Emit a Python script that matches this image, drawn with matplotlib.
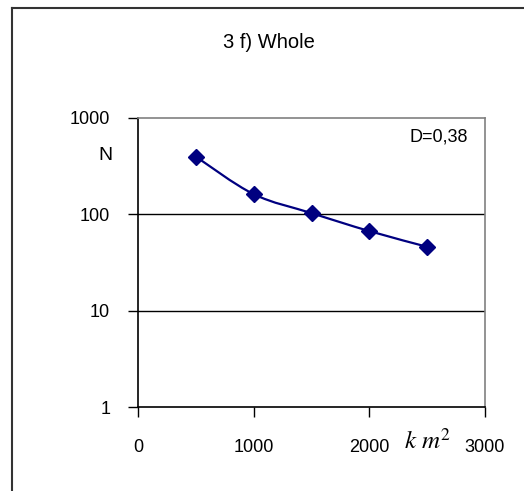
import numpy as np
import matplotlib
matplotlib.use("Agg")
import matplotlib.pyplot as plt
from matplotlib.path import Path
from matplotlib.patches import PathPatch
from matplotlib.lines import Line2D

plt.rcParams['font.family'] = ['Liberation Sans', 'DejaVu Sans']

# data
area = [500, 1000, 1500, 2000, 2500]
counts = [397, 162, 103, 67, 46]
x_ticks = [0, 1000, 2000, 3000]
y_ticks = [1, 10, 100, 1000]
y_tick_labels = ['1', '10', '100', '1000']

W, H = 524, 491
fig = plt.figure(figsize=(W / 100, H / 100), dpi=100)
ax = fig.add_axes([138 / W, 1 - 407 / H, (485 - 138) / W, (407 - 118) / H])

ax.set_yscale('log')
ax.set_xlim(0, 3000)
ax.set_ylim(1, 1000)
ax.set_xticks(x_ticks)
ax.set_xticklabels([str(t) for t in x_ticks])
ax.set_yticks(y_ticks)
ax.set_yticklabels(y_tick_labels)
ax.yaxis.set_minor_locator(matplotlib.ticker.NullLocator())
ax.tick_params(direction='out', length=7, width=1, labelsize=13, color='black')
ax.tick_params(axis='y', pad=13)
ax.tick_params(axis='x', pad=16)

for v in [10, 100]:
    ax.axhline(v, color='black', lw=1, zorder=1)

ax.spines['left'].set_color('black')
ax.spines['bottom'].set_color('black')
ax.spines['top'].set_color('#808080')
ax.spines['right'].set_color('#808080')
for s in ax.spines.values():
    s.set_linewidth(1.2)

# smoothed line (Catmull-Rom in x / log y space, drawn as bezier)
xs = np.array(area, float)
ls = np.log10(np.array(counts, float))
verts = [(xs[0], counts[0])]
codes = [Path.MOVETO]
n = len(xs)
for i in range(n - 1):
    p0 = (xs[max(i - 1, 0)], ls[max(i - 1, 0)])
    p1 = (xs[i], ls[i])
    p2 = (xs[i + 1], ls[i + 1])
    p3 = (xs[min(i + 2, n - 1)], ls[min(i + 2, n - 1)])
    c1 = (p1[0] + (p2[0] - p0[0]) / 6, p1[1] + (p2[1] - p0[1]) / 6)
    c2 = (p2[0] - (p3[0] - p1[0]) / 6, p2[1] - (p3[1] - p1[1]) / 6)
    for c in (c1, c2, p2):
        verts.append((c[0], 10 ** c[1]))
    codes += [Path.CURVE4] * 3
ax.add_patch(PathPatch(Path(verts, codes), facecolor='none', edgecolor='#000080', lw=1.6, zorder=3))
ax.plot(area, counts, linestyle='none', marker='D', markersize=8, color='#000080', zorder=4)

fig.text(269 / W, 1 - 42 / H, '3 f) Whole', ha='center', va='center', fontsize=14.5)
fig.text(105 / W, 1 - 156 / H, 'N', ha='center', va='center', fontsize=14)
fig.text(468 / W, 1 - 137 / H, 'D=0,38', ha='right', va='center', fontsize=13)
fig.text(428 / W, 1 - 441 / H, r'$k\ m^2$', ha='center', va='center', fontsize=18,
         math_fontfamily='stix')

# outer chart border (only left and top fall inside the image)
fig.add_artist(Line2D([12 / W, 12 / W], [0, 1 - 8 / H], transform=fig.transFigure, color='#333333', lw=1.5))
fig.add_artist(Line2D([12 / W, 1], [1 - 8 / H, 1 - 8 / H], transform=fig.transFigure, color='#333333', lw=1.5))

fig.savefig('out.png', dpi=100)
